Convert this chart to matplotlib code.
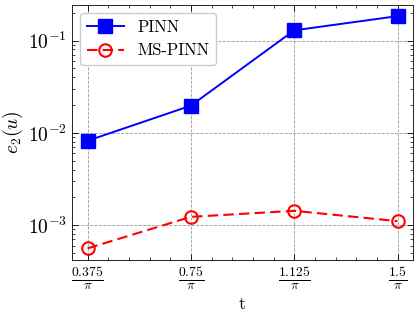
import matplotlib
matplotlib.use("Agg")
import matplotlib.pyplot as plt
import numpy as np
from matplotlib.ticker import AutoMinorLocator

# ── Datos ────────────────────────────────────────────────────
t_num = [0.375, 0.75, 1.125, 1.5]
t_labels = [r"$\frac{0.375}{\pi}$", r"$\frac{0.75}{\pi}$",
            r"$\frac{1.125}{\pi}$", r"$\frac{1.5}{\pi}$"]
err_pinn = [8.2e-3, 1.97e-2, 1.29e-1, 1.84e-1]
err_mspinn = [5.6e-4, 1.23e-3, 1.43e-3, 1.105e-3]

plt.rcParams["font.family"] = ["cmr10", "DejaVu Serif"]
plt.rcParams["mathtext.fontset"] = "cm"
plt.rcParams["axes.formatter.use_mathtext"] = True
plt.rcParams["axes.unicode_minus"] = False

t = np.array(t_num) / np.pi

fig = plt.figure(figsize=(4.19, 3.16), dpi=100)
ax = fig.add_axes([72 / 419, 1 - 260 / 316, (413 - 72) / 419, (260 - 4.5) / 316])

ax.plot(t, err_pinn, "-s", color="blue", linewidth=1.4, markersize=10,
        label="PINN")
ax.plot(t, err_mspinn, "--o", color="red", linewidth=1.5, markersize=9,
        markerfacecolor="none", markeredgewidth=1.5, dashes=(5, 2.5),
        label="MS-PINN")

ax.set_yscale("log")
ax.set_xticks(t)
ax.set_xticklabels(t_labels, fontsize=14)
ax.xaxis.set_minor_locator(AutoMinorLocator(5))
ax.tick_params(axis="y", labelsize=14)
ax.tick_params(which="both", direction="in", top=True, right=True)
ax.tick_params(which="major", length=4, width=0.6)
ax.tick_params(which="minor", length=2, width=0.5)
for s in ax.spines.values():
    s.set_linewidth(0.6)

ax.grid(which="major", linestyle="--", color="gray", linewidth=0.6, alpha=0.8)
ax.set_xlabel("t", fontsize=13)
ax.set_ylabel(r"$e_2(u)$", fontsize=14, labelpad=2)
ax.legend(loc="upper left", fontsize=12, fancybox=True, framealpha=1,
          edgecolor="#cccccc", handlelength=2.2)

fig.savefig("out.png", dpi=100)
